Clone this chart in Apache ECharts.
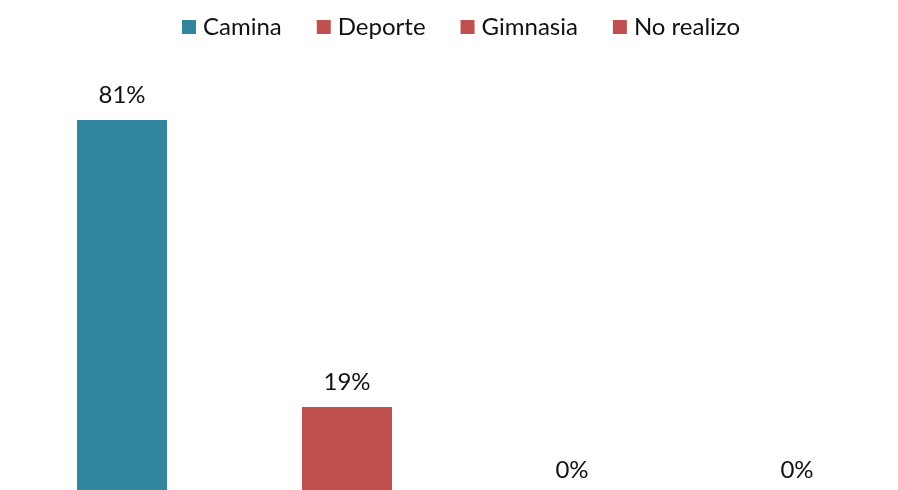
<!DOCTYPE html>
<html>
<head>
<meta charset="utf-8">
<script src="https://cdn.jsdelivr.net/npm/echarts@6/dist/echarts.min.js"></script>
<style>
  html, body { margin: 0; padding: 0; background: #fff; overflow: hidden; }
  #chart { width: 898px; height: 495px; }
</style>
</head>
<body>
<div id="chart"></div>
<script>
// Actividad física: porcentaje por tipo
const seriesNames = ['Camina', 'Deporte', 'Gimnasia', 'No realizo'];
const seriesValues = [81, 19, 0, 0];
const seriesColors = ['#31859C', '#C0504D', '#C0504D', '#C0504D'];
const categories = [''];

const FONT = 'Lato, "Open Sans", sans-serif';

const chart = echarts.init(document.getElementById('chart'));

const series = seriesNames.map((name, i) => ({
  name: name,
  type: 'bar',
  data: [seriesValues[i]],
  barWidth: 90,
  barGap: '150%',
  itemStyle: { color: seriesColors[i] },
  label: {
    show: true,
    position: 'top',
    distance: 13,
    formatter: '{c}%',
    color: '#111',
    fontFamily: FONT,
    fontSize: 24
  }
}));

chart.setOption({
  animation: false,
  backgroundColor: '#fff',
  legend: {
    top: 10,
    left: 177,
    itemWidth: 14,
    itemHeight: 14,
    itemGap: 35,
    icon: 'rect',
    textStyle: { fontFamily: FONT, fontSize: 24, color: '#111', padding: [0, 0, 0, 2] },
    data: seriesNames
  },
  grid: { left: 21, right: 0, top: 32, bottom: 0, containLabel: false },
  xAxis: {
    type: 'category',
    data: categories,
    show: false
  },
  yAxis: {
    type: 'value',
    min: 0,
    max: 100,
    show: false,
    splitLine: { show: false }
  },
  series: series
});
</script>
</body>
</html>
